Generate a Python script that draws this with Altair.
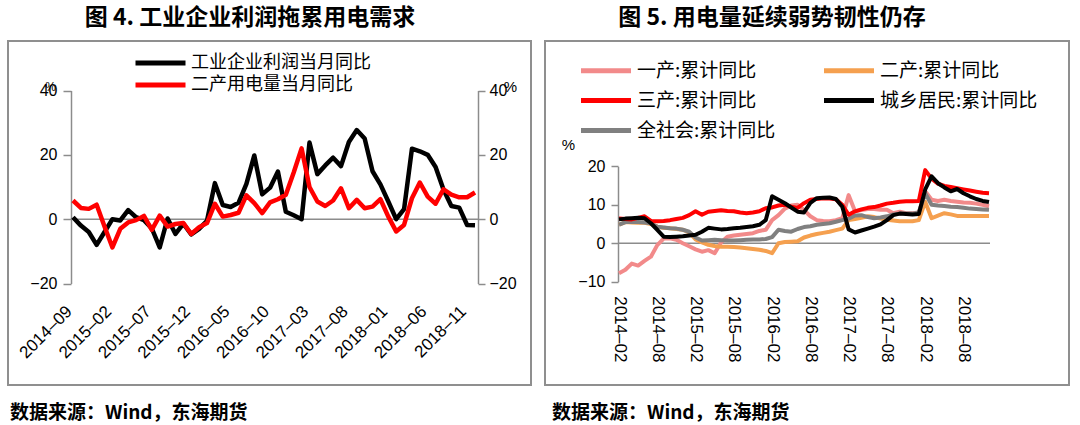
import altair as alt
import pandas as pd

W, H = 1080, 425
AXIS_GRAY = "#8c8c8c"
NUM_FONT = "Liberation Sans"
CJK_FONT = "Noto Sans CJK SC"

# ---------------- Figure 4 data (monthly, 2014-09 .. 2018-12) ----------------
months_left = [str(p) for p in pd.period_range("2014-09", "2018-12", freq="M")]
profit_yoy = [0.6, -2.0, -4.0, -8.0, -4.0, 0.0, -0.4, 2.8, 0.6, -0.3,
              -2.9, -8.8, 0.2, -4.6, -1.4, -4.7, -3.0, -0.5, 11.2, 4.4,
              3.8, 5.1, 11.0, 19.8, 7.7, 9.8, 14.8, 2.3, 1.2, 0.0,
              23.8, 14.0, 16.7, 19.1, 16.5, 24.0, 27.7, 25.1, 14.9, 10.8,
              5.5, 0.0, 3.1, 21.9, 21.1, 20.0, 16.2, 9.2, 4.1, 3.6,
              -1.8, -1.9]
secondary_power_yoy = [5.8, 3.5, 3.2, 4.5, -2.3, -8.8, -3.0, -1.0, -0.3, 1.0,
                       -3.3, 1.1, -2.3, -1.5, -1.2, -4.6, -2.5, -1.2, 4.8, 0.8,
                       1.3, 2.0, 7.4, 5.0, 1.9, 5.2, 6.2, 7.6, 14.5, 22.0,
                       10.0, 5.5, 4.1, 5.8, 9.6, 3.4, 6.0, 3.4, 3.9, 6.2,
                       0.8, -3.8, -1.8, 6.5, 11.4, 7.0, 4.8, 9.3, 7.6, 6.8,
                       6.8, 8.3]
left_ticks = ["2014-09", "2015-02", "2015-07", "2015-12", "2016-05", "2016-10",
              "2017-03", "2017-08", "2018-01", "2018-06", "2018-11"]
left_series = ["工业企业利润当月同比", "二产用电量当月同比"]
left_colors = ["#000000", "#ff0000"]
left_y_ticks = [-20, 0, 20, 40]

# ---------------- Figure 5 data (monthly, 2014-02 .. 2018-12) ----------------
months_right = [str(p) for p in pd.period_range("2014-02", "2018-12", freq="M")]
primary_yoy = [-7.8, -6.9, -5.3, -5.8, -4.6, -3.5, -0.5, 1.2, 1.3, 0.9,
               0.0, -0.8, -1.6, -2.2, -1.8, -2.6, 0.2, 1.7, 2.0, 2.2,
               2.4, 2.6, 3.2, 3.5, 6.0, 7.3, 9.0, 9.8, 10.0, 8.6,
               7.0, 6.0, 5.8, 5.7, 6.0, 6.5, 12.5, 8.3, 8.6, 8.9,
               8.9, 8.7, 8.7, 7.8, 8.2, 7.8, 7.8, 8.0, 13.5, 11.3,
               11.0, 11.3, 11.0, 10.8, 10.6, 10.5, 10.3, 10.0, 9.6]
secondary_yoy = [4.8, 5.5, 5.4, 5.3, 5.3, 5.0, 4.3, 4.0, 3.9, 3.7,
                 3.5, 2.8, 1.0, 0.2, -0.4, -0.7, -0.9, -0.9, -1.0, -1.1,
                 -1.3, -1.5, -1.7, -2.0, -2.6, 0.0, 0.3, 0.4, 0.5, 1.5,
                 2.0, 2.4, 2.7, 3.0, 3.4, 3.8, 6.0, 6.3, 6.6, 7.0,
                 6.8, 6.4, 6.1, 5.9, 5.7, 5.7, 5.7, 6.0, 10.8, 6.5,
                 7.2, 7.8, 7.5, 7.1, 7.1, 7.1, 7.1, 7.1, 7.1]
tertiary_yoy = [6.4, 6.3, 6.2, 6.6, 7.0, 5.8, 5.7, 5.8, 6.0, 6.3,
                6.6, 7.3, 8.3, 7.4, 8.2, 8.4, 8.6, 8.4, 8.3, 8.0,
                7.8, 8.0, 8.3, 9.1, 9.3, 9.8, 10.0, 9.5, 9.2, 10.4,
                11.3, 11.5, 11.7, 11.6, 11.4, 10.0, 7.4, 8.3, 8.8, 9.2,
                9.4, 9.8, 10.3, 10.5, 10.8, 10.9, 10.9, 11.0, 19.0, 16.8,
                15.5, 14.9, 14.6, 14.3, 14.0, 13.7, 13.4, 13.1, 13.0]
residential_yoy = [6.2, 6.4, 6.5, 6.6, 6.5, 5.2, 3.5, 1.7, 1.6, 1.7,
                   1.8, 2.0, 2.2, 3.0, 4.0, 3.8, 3.6, 3.7, 3.9, 4.0,
                   4.2, 4.4, 4.8, 6.0, 12.2, 11.3, 10.4, 9.3, 8.2, 8.0,
                   10.5, 11.7, 11.8, 11.9, 11.5, 9.5, 3.6, 2.8, 3.3, 3.8,
                   4.3, 4.9, 6.0, 7.3, 7.7, 7.6, 7.5, 7.6, 14.0, 17.4,
                   15.6, 14.5, 13.5, 14.1, 13.0, 12.2, 11.5, 11.0, 10.7]
total_yoy = [4.8, 5.5, 5.6, 5.5, 5.4, 5.2, 4.3, 4.1, 3.9, 3.8,
             3.5, 3.0, 1.5, 0.7, 0.8, 0.9, 0.8, 0.7, 0.7, 0.8,
             0.9, 1.0, 1.0, 1.1, 1.6, 3.5, 3.2, 3.0, 3.7, 4.2,
             4.4, 4.8, 5.0, 5.2, 5.6, 6.0, 6.4, 7.2, 7.3, 6.8,
             6.5, 6.7, 7.0, 7.5, 7.7, 7.7, 7.7, 8.0, 13.0, 10.0,
             9.8, 9.7, 9.5, 9.4, 9.2, 9.0, 8.9, 8.8, 8.7]
right_ticks = ["2014-02", "2014-08", "2015-02", "2015-08", "2016-02", "2016-08",
               "2017-02", "2017-08", "2018-02", "2018-08"]
right_series = ["一产:累计同比", "二产:累计同比", "三产:累计同比",
                "城乡居民:累计同比", "全社会:累计同比"]
right_colors = ["#f28a8a", "#f5a04f", "#ff0000", "#000000", "#808080"]
right_y_ticks = [-10, 0, 10, 20]

# ---------------- long tables ----------------
left_df = pd.concat([
    pd.DataFrame({"month": months_left, "value": vals, "series": name})
    for name, vals in zip(left_series, [profit_yoy, secondary_power_yoy])
], ignore_index=True)
right_df = pd.concat([
    pd.DataFrame({"month": months_right, "value": vals, "series": name})
    for name, vals in zip(right_series, [primary_yoy, secondary_yoy, tertiary_yoy,
                                         residential_yoy, total_yoy])
], ignore_index=True)
zero_df = pd.DataFrame({"value": [0]})
one_df = pd.DataFrame({"k": [0]})

axis_common = dict(domainColor=AXIS_GRAY, domainWidth=1.5, tickColor=AXIS_GRAY,
                   tickWidth=1.5, labelFont=NUM_FONT, labelFontSize=16,
                   labelColor="#000000", grid=False)
DASH_EXPR = "replace(datum.label, '-', '–')"
LINE_SYMBOL = "M-5,0L5,0"   # scaled by sqrt(symbolSize)/2 -> 50px long stroke

# ---------------- Figure 4 ----------------
yL_scale = alt.Scale(domain=[-20, 40], range=[283.5, 90.5], nice=False, zero=False)
xL = alt.X("month:O",
           scale=alt.Scale(type="point", domain=months_left, range=[73, 475], padding=0),
           axis=alt.Axis(orient="bottom", offset=-(H - 283.5), values=left_ticks,
                         labelExpr=DASH_EXPR,
                         labelAngle=-45, labelAlign="right", labelBaseline="middle",
                         labelPadding=25, labelOffset=-4, domain=False, ticks=False,
                         tickSize=0, labelOverlap=False, labelFlush=False, title=None,
                         labelFont=NUM_FONT, labelFontSize=17, labelColor="#000000"))
yL = alt.Y("value:Q", scale=yL_scale,
           axis=alt.Axis(orient="left", offset=-71, values=left_y_ticks, tickSize=8,
                         labelPadding=6, title="%", titleAngle=0, titleX=-21, titleY=86,
                         titleFont=NUM_FONT, titleFontSize=12, titleFontWeight="normal",
                         titleAlign="center", titleBaseline="middle", **axis_common))
colorL = alt.Color("series:N", scale=alt.Scale(domain=left_series, range=left_colors),
                   legend=alt.Legend(orient="none", legendX=151.5, legendY=54, title=None,
                                     direction="vertical",
                                     symbolType=LINE_SYMBOL, symbolSize=100,
                                     symbolStrokeWidth=5, labelFont=CJK_FONT,
                                     labelFontSize=18, labelOffset=21.5, rowPadding=2,
                                     labelLimit=400, padding=0, labelColor="#000000"))

left_lines = alt.layer(*[
    alt.Chart(left_df).transform_filter(alt.datum.series == s)
    .mark_line(strokeWidth=4.5, strokeJoin="round")
    .encode(x=xL, y=yL, color=colorL)
    for s in left_series
])

left_zero = alt.Chart(zero_df).mark_rule(color=AXIS_GRAY, strokeWidth=1.5).encode(
    x=alt.value(71), x2=alt.value(478),
    y=alt.Y("value:Q", scale=yL_scale,
            axis=alt.Axis(orient="right", offset=-(W - 478), values=left_y_ticks,
                          tickSize=7, labelPadding=4, title="%", titleAngle=0,
                          titleX=32, titleY=86, titleFont=NUM_FONT, titleFontSize=15,
                          titleFontWeight="normal", titleAlign="center",
                          titleBaseline="middle", **axis_common)))

# ---------------- Figure 5 ----------------
yR_scale = alt.Scale(domain=[-10, 20], range=[281.7, 166.3], nice=False, zero=False)
xR = alt.X("month:O",
           scale=alt.Scale(type="point", domain=months_right, range=[619, 989], padding=0),
           axis=alt.Axis(orient="bottom", offset=-(H - 281.7), values=right_ticks,
                         labelExpr=DASH_EXPR,
                         labelAngle=90, labelAlign="left", labelBaseline="middle",
                         labelPadding=14, domain=False, ticks=False, tickSize=0,
                         labelOverlap=False, labelFlush=False, title=None,
                         labelFont=NUM_FONT, labelFontSize=17, labelColor="#000000"))
yR = alt.Y("value:Q", scale=yR_scale,
           axis=alt.Axis(orient="left", offset=-618, values=right_y_ticks, tickSize=7,
                         labelPadding=6, title="%", titleAngle=0, titleX=-50, titleY=144,
                         titleFont=NUM_FONT, titleFontSize=15, titleFontWeight="normal",
                         titleAlign="center", titleBaseline="middle", **axis_common))
colorR = alt.Color("series:N", scale=alt.Scale(domain=right_series, range=right_colors),
                   legend=alt.Legend(orient="none", legendX=596.5, legendY=61, title=None,
                                     direction="horizontal", columns=2, columnPadding=38,
                                     symbolType=LINE_SYMBOL, symbolSize=100,
                                     symbolStrokeWidth=5, labelFont=CJK_FONT,
                                     labelFontSize=19, labelOffset=21.5, rowPadding=9,
                                     labelLimit=400, padding=0, labelColor="#000000"))

right_zero = alt.Chart(zero_df).mark_rule(color=AXIS_GRAY, strokeWidth=1.5).encode(
    x=alt.value(618), x2=alt.value(990), y=yR)
draw_order = ["一产:累计同比", "二产:累计同比", "全社会:累计同比",
              "三产:累计同比", "城乡居民:累计同比"]
right_lines = [
    alt.Chart(right_df).transform_filter(alt.datum.series == s)
    .mark_line(strokeWidth=4, strokeJoin="round")
    .encode(x=xR, y=yR, color=colorR)
    for s in draw_order
]
right_panel = alt.layer(right_zero, *right_lines)

# ---------------- frames, titles, sources ----------------
def frame(x0, x1, y0, y1):
    return alt.Chart(one_df).mark_rect(fill="transparent", stroke="#8f8f8f",
                                       strokeWidth=2).encode(
        x=alt.value(x0), x2=alt.value(x1), y=alt.value(y0), y2=alt.value(y1))

def label(txt, x, y, size, align="center", weight="bold"):
    return alt.Chart(one_df).mark_text(text=txt, font=CJK_FONT, fontSize=size,
                                       fontWeight=weight, align=align,
                                       baseline="middle", color="#000000").encode(
        x=alt.value(x), y=alt.value(y))

decor = [
    frame(8, 531, 41, 385),
    frame(545, 1069, 41, 385),
    label("图 4.  工业企业利润拖累用电需求", 250, 18, 23),
    label("图 5.  用电量延续弱势韧性仍存", 772, 18, 23),
    label("数据来源：Wind，东海期货", 10, 413, 19, align="left"),
    label("数据来源：Wind，东海期货", 552, 413, 19, align="left"),
]

chart = alt.layer(
    *decor, left_zero, left_lines, right_panel
).resolve_scale(
    x="independent", y="independent", color="independent"
).properties(
    width=W, height=H, padding=0, autosize=alt.AutoSizeParams(type="none"),
    background="#ffffff"
).configure_view(stroke=None)

chart.save("out.html", embed_options={"renderer": "svg", "actions": False})
